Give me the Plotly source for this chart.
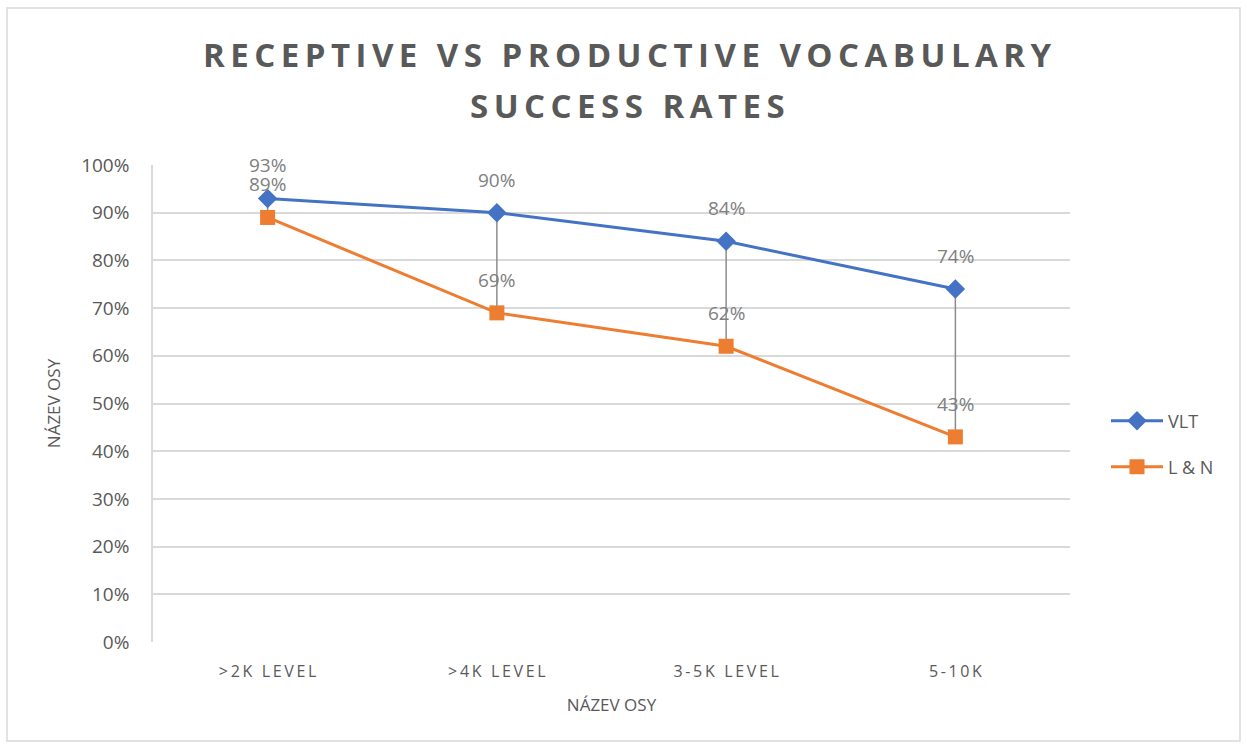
import plotly.graph_objects as go

categories = [">2K LEVEL", ">4K LEVEL", "3-5K LEVEL", "5-10K"]
vlt = [0.93, 0.90, 0.84, 0.74]
ln = [0.89, 0.69, 0.62, 0.43]
y_ticks = [i / 10 for i in range(11)]
title_lines = ["RECEPTIVE VS PRODUCTIVE VOCABULARY", "SUCCESS RATES"]

W, H = 1247, 747
L, R, T, B = 153, 1070, 165, 642  # plot area in pixels


def px(x):
    return (x - L) / (R - L)


def py(y):
    return (B - y) / (B - T)


def spaced(s):
    # fake letter-spacing with thin spaces
    return "\u2009".join(s)


fig = go.Figure()

# high-low lines between the two series
hl_x, hl_y = [], []
for c, a, b in zip(categories, vlt, ln):
    hl_x += [c, c, None]
    hl_y += [a, b, None]
fig.add_trace(go.Scatter(
    x=hl_x, y=hl_y, mode='lines', line=dict(color='#8c8c8c', width=1.5),
    showlegend=False, hoverinfo='skip'
))

fig.add_trace(go.Scatter(
    x=categories, y=vlt, name='VLT', mode='lines+markers',
    line=dict(color='#4472C4', width=3),
    marker=dict(symbol='diamond', size=15, color='#4472C4'),
    legend='legend'
))
fig.add_trace(go.Scatter(
    x=categories, y=ln, name='L & N', mode='lines+markers',
    line=dict(color='#ED7D31', width=3),
    marker=dict(symbol='square', size=15, color='#ED7D31'),
    legend='legend2'
))

# data labels sit well above each point
for series in (vlt, ln):
    for c, v in zip(categories, series):
        fig.add_annotation(x=c, y=v, text=f"{v:.0%}", showarrow=False,
                           yshift=33, font=dict(size=19, color='#808080'))

# two-line title, letter-spaced
for line, ypix in zip(title_lines, [55, 106]):
    fig.add_annotation(
        xref='paper', yref='paper', x=px(627), y=py(ypix),
        xanchor='center', yanchor='middle', showarrow=False,
        text=spaced(line),
        font=dict(family='Open Sans', size=33, color='#595959', weight='bold')
    )

fig.update_layout(
    width=W, height=H,
    margin=dict(l=L, r=W - R, t=T, b=H - B),
    paper_bgcolor='white', plot_bgcolor='white',
    font=dict(family='Open Sans', color='#595959'),
    legend=dict(x=px(1106), y=py(421), xanchor='left', yanchor='middle',
                itemwidth=52,
                font=dict(size=18, color='#595959'), bgcolor='rgba(0,0,0,0)'),
    legend2=dict(x=px(1106), y=py(467), xanchor='left', yanchor='middle',
                 itemwidth=52,
                 font=dict(size=18, color='#595959'), bgcolor='rgba(0,0,0,0)'),
    showlegend=True,
)

fig.update_xaxes(
    type='category', categoryorder='array', categoryarray=categories,
    range=[-0.5, 3.5], tickvals=categories,
    ticktext=[spaced(c) for c in categories],
    tickfont=dict(size=16, color='#595959'), ticks='', showgrid=False,
    showline=False, ticklabelstandoff=18,
    title=dict(text='NÁZEV OSY', font=dict(size=17, color='#595959'), standoff=18),
)
fig.update_yaxes(
    range=[0, 1], tickvals=y_ticks, tickformat='.0%',
    tickfont=dict(size=19, color='#595959'),
    showgrid=True, gridcolor='#d9d9d9', gridwidth=1.5,
    showline=True, linecolor='#d9d9d9', linewidth=1.5, zeroline=False,
    ticks='', ticklabelstandoff=18,
    title=dict(text='NÁZEV OSY', font=dict(size=17, color='#595959'), standoff=16),
)

# outer chart border
fig.add_shape(type='rect', xref='paper', yref='paper',
              x0=px(7), x1=px(1240), y0=py(741), y1=py(8),
              line=dict(color='#d9d9d9', width=1.5), layer='below')

fig.write_html("out.html", config={'displayModeBar': False},
               post_script="document.body.style.margin='0';")
